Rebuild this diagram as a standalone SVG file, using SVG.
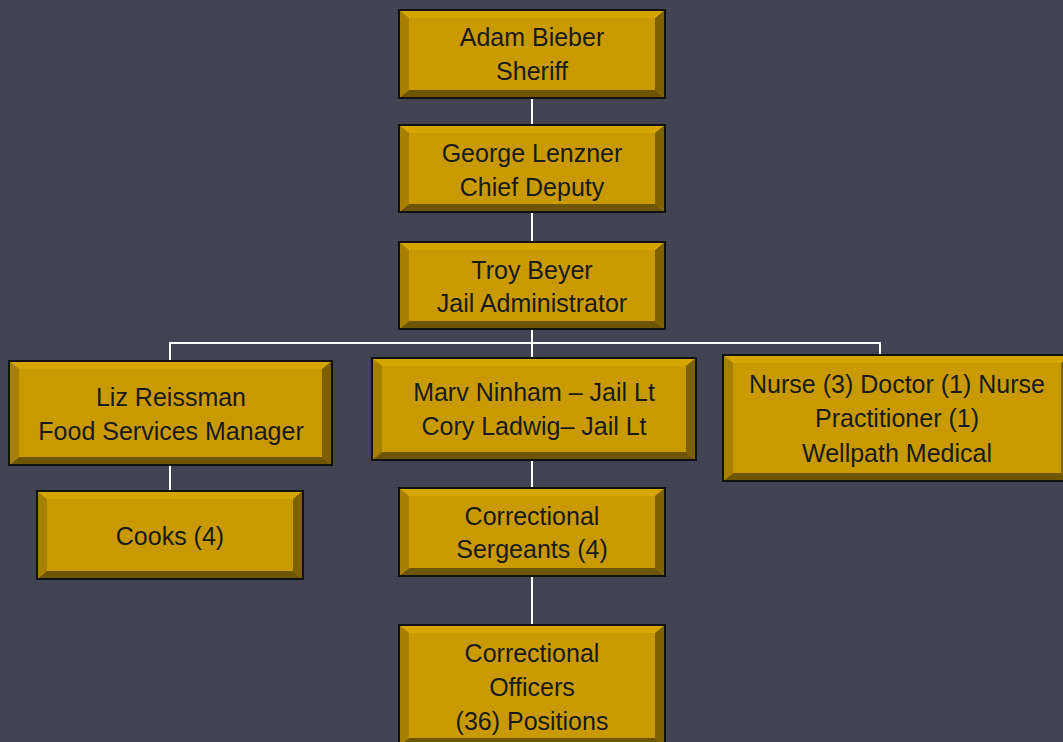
<svg xmlns="http://www.w3.org/2000/svg" width="1063" height="742" viewBox="0 0 1063 742">
<style>
.base{fill:#C99A00;stroke:#111;stroke-width:2}
.t{fill:#D6A500}
.l{fill:#A88000}
.r{fill:#7D6000}
.b{fill:#6E5500}
.lbl{font-family:"Liberation Sans",Arial,sans-serif;font-size:25px;fill:#1a1a1a;text-anchor:middle}
.conn{stroke:#FFFFFF;stroke-width:2;fill:none}
</style>
<rect width="1063" height="742" fill="#414252"/>
<g id="connectors">
<line class="conn" x1="532" y1="98" x2="532" y2="125"/>
<line class="conn" x1="532" y1="212" x2="532" y2="242"/>
<line class="conn" x1="532" y1="329" x2="532" y2="358"/>
<polyline class="conn" points="170,361 170,343 880,343 880,355"/>
<line class="conn" x1="170" y1="465" x2="170" y2="491"/>
<line class="conn" x1="532" y1="460" x2="532" y2="488"/>
<line class="conn" x1="532" y1="576" x2="532" y2="625"/>
</g>
<g id="sheriff">
<rect class="base" x="399" y="10" width="266" height="88"/>
<polygon class="t" points="399,10 665,10 655,18 409,18"/>
<polygon class="b" points="399,98 665,98 655,90 409,90"/>
<polygon class="l" points="399,10 409,18 409,90 399,98"/>
<polygon class="r" points="665,10 655,18 655,90 665,98"/>
<rect x="399" y="10" width="266" height="88" fill="none" stroke="#111" stroke-width="2"/>
<text class="lbl" x="532" y="46">Adam Bieber</text>
<text class="lbl" x="532" y="80">Sheriff</text>
</g>
<g id="chief">
<rect class="base" x="399" y="125" width="266" height="87"/>
<polygon class="t" points="399,125 665,125 655,133 409,133"/>
<polygon class="b" points="399,212 665,212 655,204 409,204"/>
<polygon class="l" points="399,125 409,133 409,204 399,212"/>
<polygon class="r" points="665,125 655,133 655,204 665,212"/>
<rect x="399" y="125" width="266" height="87" fill="none" stroke="#111" stroke-width="2"/>
<text class="lbl" x="532" y="162">George Lenzner</text>
<text class="lbl" x="532" y="196">Chief Deputy</text>
</g>
<g id="admin">
<rect class="base" x="399" y="242" width="266" height="87"/>
<polygon class="t" points="399,242 665,242 655,250 409,250"/>
<polygon class="b" points="399,329 665,329 655,321 409,321"/>
<polygon class="l" points="399,242 409,250 409,321 399,329"/>
<polygon class="r" points="665,242 655,250 655,321 665,329"/>
<rect x="399" y="242" width="266" height="87" fill="none" stroke="#111" stroke-width="2"/>
<text class="lbl" x="532" y="279">Troy Beyer</text>
<text class="lbl" x="532" y="312">Jail Administrator</text>
</g>
<g id="food">
<rect class="base" x="9" y="361" width="323" height="104"/>
<polygon class="t" points="9,361 332,361 322,369 19,369"/>
<polygon class="b" points="9,465 332,465 322,457 19,457"/>
<polygon class="l" points="9,361 19,369 19,457 9,465"/>
<polygon class="r" points="332,361 322,369 322,457 332,465"/>
<rect x="9" y="361" width="323" height="104" fill="none" stroke="#111" stroke-width="2"/>
<text class="lbl" x="171" y="406">Liz Reissman</text>
<text class="lbl" x="171" y="440">Food Services Manager</text>
</g>
<g id="lieutenants">
<rect class="base" x="372" y="358" width="324" height="102"/>
<polygon class="t" points="372,358 696,358 686,366 382,366"/>
<polygon class="b" points="372,460 696,460 686,452 382,452"/>
<polygon class="l" points="372,358 382,366 382,452 372,460"/>
<polygon class="r" points="696,358 686,366 686,452 696,460"/>
<rect x="372" y="358" width="324" height="102" fill="none" stroke="#111" stroke-width="2"/>
<text class="lbl" x="534" y="401">Marv Ninham – Jail Lt</text>
<text class="lbl" x="534" y="435">Cory Ladwig– Jail Lt</text>
</g>
<g id="medical">
<rect class="base" x="723" y="355" width="348" height="126"/>
<polygon class="t" points="723,355 1071,355 1061,363 733,363"/>
<polygon class="b" points="723,481 1071,481 1061,473 733,473"/>
<polygon class="l" points="723,355 733,363 733,473 723,481"/>
<polygon class="r" points="1071,355 1061,363 1061,473 1071,481"/>
<rect x="723" y="355" width="348" height="126" fill="none" stroke="#111" stroke-width="2"/>
<text class="lbl" x="897" y="393">Nurse (3) Doctor (1) Nurse</text>
<text class="lbl" x="897" y="427">Practitioner (1)</text>
<text class="lbl" x="897" y="462">Wellpath Medical</text>
</g>
<g id="cooks">
<rect class="base" x="37" y="491" width="266" height="88"/>
<polygon class="t" points="37,491 303,491 293,499 47,499"/>
<polygon class="b" points="37,579 303,579 293,571 47,571"/>
<polygon class="l" points="37,491 47,499 47,571 37,579"/>
<polygon class="r" points="303,491 293,499 293,571 303,579"/>
<rect x="37" y="491" width="266" height="88" fill="none" stroke="#111" stroke-width="2"/>
<text class="lbl" x="170" y="545">Cooks (4)</text>
</g>
<g id="sergeants">
<rect class="base" x="399" y="488" width="266" height="88"/>
<polygon class="t" points="399,488 665,488 655,496 409,496"/>
<polygon class="b" points="399,576 665,576 655,568 409,568"/>
<polygon class="l" points="399,488 409,496 409,568 399,576"/>
<polygon class="r" points="665,488 655,496 655,568 665,576"/>
<rect x="399" y="488" width="266" height="88" fill="none" stroke="#111" stroke-width="2"/>
<text class="lbl" x="532" y="525">Correctional</text>
<text class="lbl" x="532" y="558">Sergeants (4)</text>
</g>
<g id="officers">
<rect class="base" x="399" y="625" width="266" height="121"/>
<polygon class="t" points="399,625 665,625 655,633 409,633"/>
<polygon class="b" points="399,746 665,746 655,738 409,738"/>
<polygon class="l" points="399,625 409,633 409,738 399,746"/>
<polygon class="r" points="665,625 655,633 655,738 665,746"/>
<rect x="399" y="625" width="266" height="121" fill="none" stroke="#111" stroke-width="2"/>
<text class="lbl" x="532" y="662">Correctional</text>
<text class="lbl" x="532" y="696">Officers</text>
<text class="lbl" x="532" y="730">(36) Positions</text>
</g>
</svg>
